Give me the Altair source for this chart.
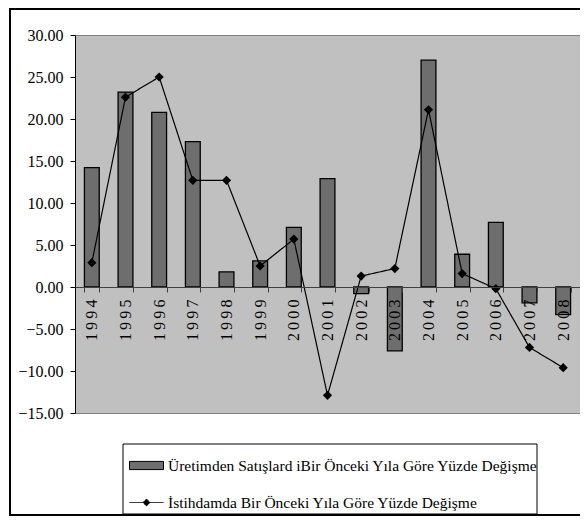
import altair as alt
import pandas as pd

years = [str(y) for y in range(1994, 2009)]
sales = [14.2, 23.2, 20.8, 17.3, 1.8, 3.1, 7.1, 12.9, -0.8, -7.6, 27.0, 3.9, 7.7, -1.9, -3.3]
employment = [2.9, 22.6, 25.0, 12.7, 12.7, 2.5, 5.7, -12.9, 1.3, 2.2, 21.1, 1.6, -0.2, -7.2, -9.6]
sales_label = "Üretimden Satışlard iBir Önceki Yıla Göre Yüzde Değişme"
emp_label = "İstihdamda Bir Önceki Yıla Göre Yüzde Değişme"
y_ticks = [-15, -10, -5, 0, 5, 10, 15, 20, 25, 30]

df = pd.DataFrame({"year": years, "sales": sales, "employment": employment,
                   "s1": [sales_label] * len(years), "s2": [emp_label] * len(years)})

FONT = "Liberation Serif"

legend_common = dict(title=None, orient="none", direction="vertical", padding=0,
                     labelFont=FONT, labelFontSize=15.5, labelColor="black",
                     labelLimit=0, labelOffset=4, symbolSize=1156,
                     symbolStrokeColor="black", symbolStrokeWidth=1, symbolOpacity=1)

xenc = alt.X("year:N", sort=years,
             scale=alt.Scale(paddingInner=0.56, paddingOuter=0.28),
             axis=alt.Axis(title=None, labelAngle=-90, offset=-126, tickBand="extent",
                           tickSize=5, domainColor="#404040", tickColor="#404040",
                           labelFont=FONT, labelFontSize=16, labelColor="black",
                           labelPadding=7, zindex=1,
                           labelExpr="join(split(datum.label, ''), '\u2009')"))
yscale = alt.Scale(domain=[-15, 30], nice=False)

bars = alt.Chart(df).mark_bar(stroke="black", strokeWidth=1.3).encode(
    x=xenc,
    y=alt.Y("sales:Q", scale=yscale,
            axis=alt.Axis(values=y_ticks, format=".2f", title=None, tickSize=5,
                          domainColor="black", tickColor="black", grid=False,
                          labelFont=FONT, labelFontSize=16, labelColor="black",
                          labelPadding=7)),
    color=alt.Color("s1:N",
                    scale=alt.Scale(domain=[sales_label], range=["#6e6e6e"]),
                    legend=alt.Legend(legendX=54, legendY=413,
                                      symbolType="M-1,-0.24H1V0.24H-1Z",
                                      **legend_common)),
)

line = alt.Chart(df).mark_line(color="black", strokeWidth=1.2).encode(
    x=alt.X("year:N", sort=years), y=alt.Y("employment:Q", scale=yscale),
    strokeDash=alt.StrokeDash("s2:N",
                              scale=alt.Scale(domain=[emp_label], range=[[1, 0]]),
                              legend=alt.Legend(legendX=54, legendY=450,
                                                symbolType="M-1,0H1M0,-0.2L0.2,0L0,0.2L-0.2,0Z",
                                                symbolFillColor="black",
                                                **legend_common)))
points = alt.Chart(df).mark_point(shape="diamond", filled=True, color="black",
                                  size=85, opacity=1).encode(
    x=alt.X("year:N", sort=years), y=alt.Y("employment:Q", scale=yscale))

frame_df = pd.DataFrame({"a": [0]})
frame = alt.Chart(frame_df).mark_rect(
    fillOpacity=0, stroke="black", strokeWidth=2).encode(
    x=alt.value(-65), x2=alt.value(600), y=alt.value(-26), y2=alt.value(480))
legend_box = alt.Chart(frame_df).mark_rect(
    fill="white", stroke="black", strokeWidth=1).encode(
    x=alt.value(48), x2=alt.value(462), y=alt.value(409), y2=alt.value(479))

chart = alt.layer(frame, legend_box, bars, line, points).properties(
    width=505, height=378,
    autosize=alt.AutoSizeParams(type="none"),
    padding={"left": 67, "top": 27, "right": 0, "bottom": 104},
).configure_view(fill="#c0c0c0", stroke="#808080", strokeWidth=1)

chart.save("out.html", embed_options={"renderer": "svg", "actions": False})
